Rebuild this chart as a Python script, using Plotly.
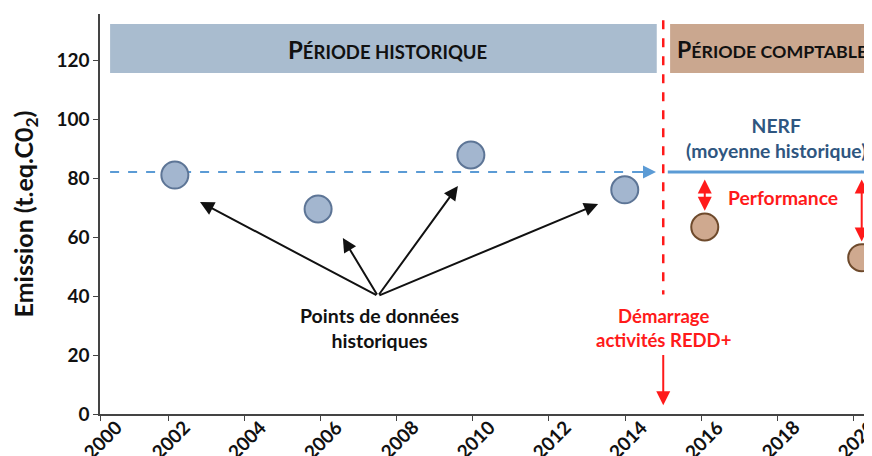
import plotly.graph_objects as go

# historical emissions and accounting-period emissions
hist_years = [2002.18, 2005.94, 2009.95, 2013.99]
hist_values = [81, 69.5, 87.8, 76]
perf_years = [2016.09, 2020.21]
perf_values = [63.4, 53]
nerf_value = 82
redd_start = 2015.0

x_ticks = list(range(2000, 2021, 2))
y_ticks = [0, 20, 40, 60, 80, 100, 120]

X_RANGE = [2000.215, 2020.48]
FONT = "Lato"
RED = "#ff1a1a"

fig = go.Figure()

# dashed historic mean line
fig.add_trace(go.Scatter(
    x=[2000.48, 2014.45], y=[nerf_value, nerf_value], mode="lines",
    line=dict(color="#5b9bd5", width=2, dash="dash"), hoverinfo="skip"))
# NERF solid line
fig.add_trace(go.Scatter(
    x=[2015.12, 2020.6], y=[nerf_value, nerf_value], mode="lines",
    line=dict(color="#5b9bd5", width=3), hoverinfo="skip"))
# red vertical dashed line
fig.add_trace(go.Scatter(
    x=[redd_start, redd_start], y=[133.5, 40.5], mode="lines",
    line=dict(color=RED, width=2.5, dash="dash"), hoverinfo="skip"))

fig.add_trace(go.Scatter(
    x=hist_years, y=hist_values, mode="markers",
    marker=dict(size=27, color="#a3b6cf", line=dict(color="#5d7596", width=2))))
fig.add_trace(go.Scatter(
    x=perf_years, y=perf_values, mode="markers",
    marker=dict(size=27, color="#cfa98f", line=dict(color="#6e4a2c", width=2))))

shapes = [
    dict(type="rect", xref="x", yref="y", x0=2000.48, x1=2014.83, y0=115.6, y1=132.2,
         fillcolor="#a9bccf", line=dict(width=0), layer="below"),
    dict(type="rect", xref="x", yref="y", x0=2015.18, x1=2021, y0=115.6, y1=132.2,
         fillcolor="#caa78f", line=dict(width=0), layer="below"),
]

def small_caps(first, rest, size):
    return (f"<b>{first}<span style='font-size:{size}px'>{rest}</span></b>")

annotations = [
    dict(x=2007.77, y=123.7, text=small_caps("P", "ÉRIODE HISTORIQUE", 18.5), showarrow=False,
         font=dict(size=24, color="#111", family=FONT)),
    dict(x=2015.3, y=123.7, text=small_caps("P", "ÉRIODE COMPTABLE", 17.8), showarrow=False,
         xanchor="left", font=dict(size=23, color="#111", family=FONT)),
    dict(x=2017.97, y=93.7, text="<b>NERF</b><br><b>(moyenne historique)</b>", showarrow=False,
         font=dict(size=19.3, color="#2f5680", family=FONT)),
    dict(x=2018.14, y=73.5, text="<b>Performance</b>", showarrow=False,
         font=dict(size=19.3, color=RED, family=FONT)),
    dict(x=2007.54, y=29, text="<b>Points de données</b><br><b>historiques</b>", showarrow=False,
         font=dict(size=19.5, color="#111", family=FONT)),
    dict(x=redd_start, y=29, text="<b>Démarrage</b><br><b>activités REDD+</b>", showarrow=False,
         font=dict(size=18.5, color=RED, family=FONT)),
]

# x tick labels, rotated as in the original (first one sits on the axis)
for xt in x_ticks:
    annotations.append(dict(x=max(xt, X_RANGE[0]), y=0, xref="x", yref="paper",
                            text=f"<b>{xt}</b>", textangle=-45, showarrow=False,
                            xanchor="center", yanchor="middle", xshift=2, yshift=-25,
                            font=dict(size=19, color="#111", family=FONT)))

# arrow from dashed line to NERF
annotations.append(dict(x=2014.81, y=nerf_value, ax=2014.25, ay=nerf_value, xref="x", yref="y",
                        axref="x", ayref="y", text="", showarrow=True, arrowhead=2,
                        arrowsize=1.3, arrowwidth=2, arrowcolor="#5b9bd5"))

# black arrows from label to historic points
origin = (2007.51, 40)
targets = [(2002.84, 71.9), (2006.59, 59.7), (2009.61, 77.3), (2013.29, 71.2)]
for tx, ty in targets:
    annotations.append(dict(x=tx, y=ty, ax=origin[0], ay=origin[1], xref="x", yref="y",
                            axref="x", ayref="y", text="", showarrow=True, arrowhead=2,
                            arrowsize=1.4, arrowwidth=2, arrowcolor="#111"))

# red arrow down to the start
annotations.append(dict(x=redd_start, y=3, ax=redd_start, ay=20.5, xref="x", yref="y",
                        axref="x", ayref="y", text="", showarrow=True, arrowhead=2,
                        arrowsize=1.4, arrowwidth=2, arrowcolor=RED))

# performance double arrows
for px_, pv in zip(perf_years, perf_values):
    annotations.append(dict(x=px_, y=pv + 5.5, ax=px_, ay=nerf_value - 2, xref="x", yref="y",
                            axref="x", ayref="y", text="", showarrow=True, arrowhead=2,
                            startarrowhead=2, arrowside="end+start", arrowsize=1.4,
                            startarrowsize=1.4, arrowwidth=2, arrowcolor=RED))

# page body has an 8px margin, so the margins are shifted to compensate
fig.update_layout(
    width=872, height=456,
    margin=dict(l=92, r=8, t=6, b=50),
    paper_bgcolor="white", plot_bgcolor="white",
    showlegend=False,
    shapes=shapes, annotations=annotations,
    font=dict(family=FONT, size=18, color="#111"),
    xaxis=dict(range=X_RANGE, tickvals=[max(t, X_RANGE[0]) for t in x_ticks],
               showticklabels=False, showgrid=False, zeroline=False, showline=True,
               linecolor="#444", linewidth=1.5, ticks="outside", ticklen=5,
               tickcolor="#444", automargin=False),
    yaxis=dict(range=[0, 135.6], tickvals=y_ticks, showgrid=False, zeroline=False,
               showline=True, linecolor="#444", linewidth=1.5, ticks="outside",
               ticklen=5, tickcolor="#444",
               tickfont=dict(size=19, family=FONT, weight="bold"), automargin=False,
               title=dict(text="<b>Emission (t.eq.C0<sub>2</sub>)</b>", standoff=16,
                          font=dict(size=25, family=FONT))),
)

fig.write_html("out.html")
